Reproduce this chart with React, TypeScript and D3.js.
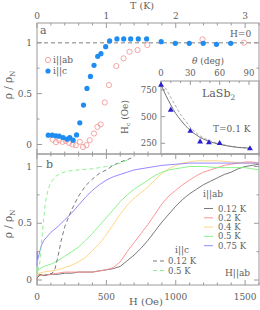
import React from "react";
import * as d3 from "d3";

// ---------- Data ----------
// Panel a: resistance vs temperature (H = 0)
const abT = [0.225, 0.273, 0.32, 0.368, 0.416, 0.463, 0.512, 0.56, 0.617, 0.664, 0.713, 0.76, 0.822, 0.87, 0.918, 0.976, 1.037, 1.143, 1.248, 1.334, 1.45, 1.59, 2.386, 2.984];
const abR = [0.049, 0.023, 0.042, 0.026, 0.035, 0.016, 0.0, -0.007, 0.026, -0.024, -0.007, 0.042, 0.108, 0.173, 0.197, 0.413, 0.584, 0.771, 0.846, 0.911, 0.928, 0.977, 1.033, 1.0];
const cT = [0.162, 0.22, 0.273, 0.32, 0.377, 0.435, 0.473, 0.52, 0.57, 0.617, 0.67, 0.72, 0.77, 0.822, 0.875, 0.922, 0.99, 1.047, 1.152, 1.25, 1.35, 1.46, 1.58, 1.79, 1.994, 2.195, 2.396, 2.587, 2.793];
const cR = [0.092, 0.092, 0.085, 0.082, 0.069, 0.052, 0.069, 0.042, 0.094, 0.213, 0.387, 0.551, 0.669, 0.778, 0.866, 0.892, 0.961, 1.017, 1.037, 1.037, 1.037, 1.037, 1.037, 1.01, 0.994, 0.994, 0.994, 0.984, 0.994];

// Inset: Hc vs theta
const thetaPts = [0, 10, 30, 40, 49, 60, 91];
const hcPts = [797, 563, 365, 265, 256, 250, 200];
const fitTheta = [0, 5, 10, 15, 20, 25, 30, 35, 40, 50, 60, 70, 80, 90];
const fitSolid = [800, 700, 610, 530, 470, 415, 370, 335, 305, 265, 240, 222, 210, 205];
const fitDashed = [800, 760, 680, 600, 520, 460, 400, 355, 320, 275, 245, 225, 212, 205];

// Panel b: resistance vs field
const abLabels = ["0.12 K", "0.2 K", "0.4 K", "0.5 K", "0.75 K"];
const abColors = ["#6a6a6a", "#ff8a8a", "#ffd27a", "#80f080", "#8a7cff"];
const h012 = [0, 5, 20, 50, 100, 150, 200, 250, 300, 350, 400, 450, 500, 550, 600, 650, 700, 750, 800, 850, 900, 950, 1000, 1050, 1100, 1150, 1200, 1250, 1300, 1350, 1400, 1450, 1500, 1550, 1600];
const r012 = [0.0, 0.04, 0.05, 0.04, 0.05, 0.05, 0.06, 0.06, 0.07, 0.07, 0.07, 0.08, 0.09, 0.1, 0.12, 0.17, 0.22, 0.28, 0.35, 0.43, 0.51, 0.58, 0.65, 0.71, 0.76, 0.8, 0.84, 0.87, 0.9, 0.93, 0.95, 0.98, 1.0, 1.01, 1.02];
const h02 = [0, 5, 20, 50, 100, 150, 200, 250, 300, 350, 400, 450, 500, 550, 600, 650, 700, 750, 800, 850, 900, 950, 1000, 1050, 1100, 1150, 1200, 1250, 1300, 1350, 1400, 1450, 1500, 1550, 1600];
const r02 = [0.0, 0.03, 0.04, 0.04, 0.05, 0.06, 0.07, 0.07, 0.07, 0.07, 0.07, 0.08, 0.09, 0.11, 0.16, 0.25, 0.33, 0.41, 0.49, 0.58, 0.67, 0.74, 0.79, 0.84, 0.88, 0.92, 0.95, 0.97, 0.99, 1.01, 1.02, 1.03, 1.04, 1.04, 1.03];
const h04 = [0, 10, 50, 100, 150, 200, 250, 300, 350, 400, 450, 500, 550, 600, 650, 700, 750, 800, 850, 900, 950, 1000, 1050, 1100, 1150, 1200, 1300, 1400, 1500, 1600];
const r04 = [0.02, 0.06, 0.07, 0.08, 0.09, 0.11, 0.13, 0.16, 0.2, 0.26, 0.32, 0.4, 0.49, 0.58, 0.66, 0.72, 0.77, 0.82, 0.88, 0.94, 0.98, 1.01, 1.03, 1.04, 1.05, 1.05, 1.05, 1.04, 1.03, 1.03];
const h05 = [0, 3, 8, 20, 50, 100, 150, 200, 250, 300, 350, 400, 450, 500, 550, 600, 650, 700, 750, 800, 850, 900, 950, 1000, 1050, 1100, 1200, 1300, 1400, 1500, 1600];
const r05 = [0.05, 0.12, 0.08, 0.1, 0.12, 0.14, 0.17, 0.21, 0.25, 0.29, 0.35, 0.41, 0.48, 0.55, 0.62, 0.69, 0.75, 0.8, 0.84, 0.88, 0.92, 0.95, 0.97, 0.98, 0.99, 1.0, 1.0, 0.99, 0.99, 0.99, 0.97];
const h075 = [0, 2, 5, 10, 30, 50, 100, 150, 200, 250, 300, 350, 400, 450, 500, 550, 600, 650, 700, 800, 900, 1000, 1100, 1200, 1300, 1400, 1500, 1600];
const r075 = [0.12, 0.25, 0.18, 0.2, 0.3, 0.35, 0.42, 0.47, 0.53, 0.59, 0.66, 0.73, 0.79, 0.84, 0.88, 0.91, 0.93, 0.95, 0.97, 0.99, 1.01, 1.02, 1.03, 1.03, 1.03, 1.03, 1.03, 1.03];
const cLabels = ["0.12 K", "0.5 K"];
const cColors = ["#6a6a6a", "#80f080"];
const hc012 = [0, 20, 50, 80, 110, 130, 150, 175, 200, 250, 300, 350, 400, 450, 500, 550, 600, 650, 690];
const rc012 = [0.02, 0.04, 0.04, 0.05, 0.06, 0.1, 0.2, 0.35, 0.47, 0.62, 0.74, 0.83, 0.89, 0.94, 0.97, 1.01, 1.04, 1.06, 1.08];
const hc05 = [0, 10, 20, 30, 45, 60, 80, 100, 130, 170, 220, 300, 400, 450, 500, 550, 600, 660];
const rc05 = [0.08, 0.1, 0.15, 0.3, 0.5, 0.68, 0.8, 0.86, 0.91, 0.94, 0.96, 0.97, 0.98, 0.99, 1.0, 1.01, 1.03, 1.06];

const tTicks = [0, 1, 2, 3];
const hTicks = [0, 500, 1000, 1500];
const rhoTicks = [0, 0.5, 1];
const thTicks = [0, 30, 60, 90];
const hcTicks = [250, 500, 750];

// ---------- Layout ----------
const X0 = 37, X1 = 259;
const TOP_Y0 = 23, MID = 154, BOT_Y1 = 285;
const xH = d3.scaleLinear().domain([0, 1600]).range([X0, X1]);
const xT = d3.scaleLinear().domain([0, 3.2]).range([X0, X1]);
const yA = d3.scaleLinear().domain([0, 1]).range([144.5, 42.7]);
const yB = d3.scaleLinear().domain([0, 1]).range([280, 166.5]);
const xI = d3.scaleLinear().domain([0, 90]).range([161, 249]);
const yI = d3.scaleLinear().domain([250, 750]).range([143.3, 90]);

const TXT = "#606060";
const AX = "#9a9a9a";
const FONT = "DejaVu Serif";

function zip(a: number[], b: number[]) {
  return a.map((v, i) => [v, b[i]] as [number, number]);
}

export default function App() {
  const lineB = d3.line<[number, number]>().x(d => xH(d[0])).y(d => yB(d[1]));
  const lineI = d3.line<[number, number]>().x(d => xI(d[0])).y(d => yI(d[1])).curve(d3.curveMonotoneX);
  const abSeries = [zip(h012, r012), zip(h02, r02), zip(h04, r04), zip(h05, r05), zip(h075, r075)];
  const cSeries = [zip(hc012, rc012), zip(hc05, rc05)];

  const minorH = d3.range(0, 1601, 100);
  const minorRho = [0.25, 0.75];
  const tri = d3.symbol().type(d3.symbolTriangle).size(15)();

  return (
    <svg width={260} height={310} style={{ position: "absolute", left: 0, top: 0, background: "#fff" }} fontFamily={FONT}>
      <rect x={0} y={0} width={260} height={310} fill="#fff" />

      {/* ===== Panel a ===== */}
      <line x1={X0} x2={X1} y1={yA(1)} y2={yA(1)} stroke="#aaa" strokeWidth={1.4} strokeDasharray="4,3" />
      {minorH.map(h => {
        const major = h % 500 === 0;
        const L = major ? 5 : 2.5;
        return (
          <g key={"ta" + h}>
            <line x1={xH(h)} x2={xH(h)} y1={TOP_Y0} y2={TOP_Y0 + L} stroke={AX} />
            <line x1={xH(h)} x2={xH(h)} y1={MID} y2={MID - L} stroke={AX} />
          </g>
        );
      })}
      {rhoTicks.map(r => (
        <g key={"ra" + r}>
          <line x1={X0} x2={X0 + 5} y1={yA(r)} y2={yA(r)} stroke={AX} />
          <line x1={X1} x2={X1 - 5} y1={yA(r)} y2={yA(r)} stroke={AX} />
        </g>
      ))}
      {minorRho.map(r => (
        <g key={"rma" + r}>
          <line x1={X0} x2={X0 + 2.5} y1={yA(r)} y2={yA(r)} stroke={AX} />
          <line x1={X1} x2={X1 - 2.5} y1={yA(r)} y2={yA(r)} stroke={AX} />
        </g>
      ))}
      {tTicks.map(t => (
        <text key={"tl" + t} x={xT(t)} y={18.5} textAnchor="middle" fontSize={9} fill={TXT}>{t}</text>
      ))}
      <text x={142} y={8.5} textAnchor="middle" fontSize={9.5} fill={TXT}>T (K)</text>
      {rhoTicks.map(r => (
        <text key={"ral" + r} x={32} y={yA(r) + 3.2} textAnchor="end" fontSize={9} fill={TXT}>{r}</text>
      ))}
      <text transform={`translate(12,${85}) rotate(-90)`} textAnchor="middle" fontSize={10.5} fill={TXT}>
        ρ / ρ<tspan fontSize={7} dy={2.5}>N</tspan>
      </text>
      <text x={40} y={33.5} fontSize={11} fill={TXT}>a</text>
      <text x={230} y={36.5} fontSize={9} fill={TXT}>H=0</text>

      {zip(abT, abR).map((d, i) => (
        <circle key={"ab" + i} cx={xT(d[0])} cy={yA(d[1])} r={2.6} fill="none" stroke="#f29c9c" strokeWidth={0.9} />
      ))}
      {zip(cT, cR).map((d, i) => (
        <circle key={"c" + i} cx={xT(d[0])} cy={yA(d[1])} r={2.6} fill="#1e8cf0" />
      ))}
      <circle cx={48} cy={60} r={2.6} fill="none" stroke="#f29c9c" strokeWidth={0.9} />
      <text x={53} y={63.3} fontSize={9} fill={TXT}>i||ab</text>
      <circle cx={48} cy={71} r={2.6} fill="#1e8cf0" />
      <text x={53} y={74.3} fontSize={9} fill={TXT}>i||c</text>

      {/* ===== Inset ===== */}
      <rect x={161} y={81} width={X1 - 161} height={MID - 81} fill="#fff" stroke={AX} />
      {d3.range(0, 91, 10).map(t => (
        <line key={"it" + t} x1={xI(t)} x2={xI(t)} y1={81} y2={81 + (t % 30 === 0 ? 4 : 2)} stroke={AX} />
      ))}
      {thTicks.map(t => (
        <text key={"itl" + t} x={xI(t)} y={76} textAnchor="middle" fontSize={8.5} fill={TXT}>{t}</text>
      ))}
      <text x={208} y={64} textAnchor="middle" fontSize={9} fill={TXT}>
        <tspan fontStyle="italic">θ</tspan> (deg)
      </text>
      {hcTicks.map(v => (
        <g key={"ih" + v}>
          <line x1={161} x2={165} y1={yI(v)} y2={yI(v)} stroke={AX} />
          <text x={157} y={yI(v) + 3} textAnchor="end" fontSize={8.5} fill={TXT}>{v}</text>
        </g>
      ))}
      <text transform={`translate(128,117) rotate(-90)`} textAnchor="middle" fontSize={9} fill={TXT}>
        H<tspan fontSize={6} dy={2}>c</tspan><tspan dy={-2}> (Oe)</tspan>
      </text>
      <path d={lineI(zip(fitTheta, fitDashed)) || ""} fill="none" stroke="#999" strokeWidth={0.8} strokeDasharray="3,2" />
      <path d={lineI(zip(fitTheta, fitSolid)) || ""} fill="none" stroke="#666" strokeWidth={0.9} />
      {zip(thetaPts, hcPts).map((d, i) => (
        <path key={"tr" + i} d={tri || ""} transform={`translate(${xI(d[0])},${yI(d[1])})`} fill="#2a20d0" />
      ))}
      <text x={202} y={97} fontSize={11} fill={TXT}>
        LaSb<tspan fontSize={7.5} dy={2.5}>2</tspan>
      </text>
      <text x={213} y={132} fontSize={9} fill={TXT}>T=0.1 K</text>

      {/* ===== Panel b ===== */}
      <rect x={X0} y={TOP_Y0} width={X1 - X0} height={MID - TOP_Y0} fill="none" stroke={AX} />
      <rect x={X0} y={MID} width={X1 - X0} height={BOT_Y1 - MID} fill="none" stroke={AX} />
      {minorH.map(h => {
        const major = h % 500 === 0;
        const L = major ? 5 : 2.5;
        return (
          <g key={"tb" + h}>
            <line x1={xH(h)} x2={xH(h)} y1={MID} y2={MID + L} stroke={AX} />
            <line x1={xH(h)} x2={xH(h)} y1={BOT_Y1} y2={BOT_Y1 - L} stroke={AX} />
          </g>
        );
      })}
      {rhoTicks.map(r => (
        <g key={"rb" + r}>
          <line x1={X0} x2={X0 + 5} y1={yB(r)} y2={yB(r)} stroke={AX} />
          <line x1={X1} x2={X1 - 5} y1={yB(r)} y2={yB(r)} stroke={AX} />
        </g>
      ))}
      {minorRho.map(r => (
        <g key={"rmb" + r}>
          <line x1={X0} x2={X0 + 2.5} y1={yB(r)} y2={yB(r)} stroke={AX} />
          <line x1={X1} x2={X1 - 2.5} y1={yB(r)} y2={yB(r)} stroke={AX} />
        </g>
      ))}
      {hTicks.map(h => (
        <text key={"hl" + h} x={xH(h)} y={300} textAnchor="middle" fontSize={9} fill={TXT}>{h}</text>
      ))}
      <text x={146} y={305} textAnchor="middle" fontSize={10} fill={TXT}>H (Oe)</text>
      {rhoTicks.map(r => (
        <text key={"rbl" + r} x={32} y={yB(r) + 3.2} textAnchor="end" fontSize={9} fill={TXT}>{r}</text>
      ))}
      <text transform={`translate(12,${224}) rotate(-90)`} textAnchor="middle" fontSize={10.5} fill={TXT}>
        ρ / ρ<tspan fontSize={7} dy={2.5}>N</tspan>
      </text>
      <text x={46} y={168} fontSize={11} fill={TXT}>b</text>

      {abSeries.map((s, i) => (
        <path key={"abl" + i} d={lineB(s) || ""} fill="none" stroke={abColors[i]} strokeWidth={0.9} />
      ))}
      {cSeries.map((s, i) => (
        <path key={"cl" + i} d={lineB(s) || ""} fill="none" stroke={cColors[i]} strokeWidth={0.9} strokeDasharray="4,3" />
      ))}

      <text x={203} y={197} fontSize={9} fill={TXT}>i||ab</text>
      {abLabels.map((l, i) => {
        const y = 208.5 + i * 9.3;
        return (
          <g key={"lab" + i}>
            <line x1={204} x2={213} y1={y} y2={y} stroke={abColors[i]} strokeWidth={0.9} />
            <text x={218} y={y + 3} fontSize={8.5} fill={TXT}>{l}</text>
          </g>
        );
      })}
      <text x={175} y={253} fontSize={9} fill={TXT}>i||c</text>
      {cLabels.map((l, i) => {
        const y = 261 + i * 9.5;
        return (
          <g key={"lc" + i}>
            <line x1={153} x2={164} y1={y} y2={y} stroke={cColors[i]} strokeWidth={0.9} strokeDasharray="4,3" />
            <text x={168} y={y + 3} fontSize={8.5} fill={TXT}>{l}</text>
          </g>
        );
      })}
      <text x={225} y={276} fontSize={9} fill={TXT}>H||ab</text>
    </svg>
  );
}
